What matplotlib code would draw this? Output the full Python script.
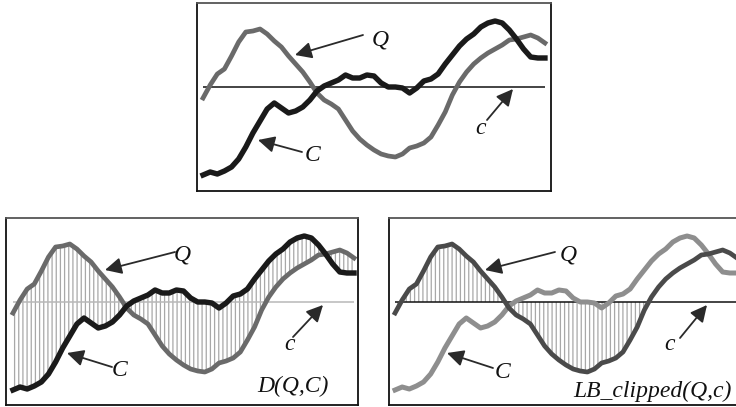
import numpy as np
import matplotlib
matplotlib.use("Agg")
import matplotlib.pyplot as plt
from matplotlib.patches import FancyArrowPatch

# ---- data (values relative to the zero/mean line, arbitrary units) ----
t = list(range(49))
Q = [-11, 2, 13, 18, 31, 45, 55, 56, 58, 53, 46, 40, 31, 23, 15, 5, -6, -13,
     -17, -22, -33, -44, -52, -58, -63, -67, -69, -70, -67, -61, -59, -56,
     -50, -38, -25, -8, 5, 15, 23, 29, 34, 38, 42, 47, 48, 50, 52, 49, 44]
C = [-88, -85, -87, -84, -80, -72, -60, -46, -34, -22, -16, -21, -26, -24,
     -20, -13, -4, 1, 4, 7, 12, 9, 9, 12, 11, 4, 0, 0, -1, -6, -1, 6, 8, 13,
     23, 32, 41, 48, 53, 60, 64, 66, 64, 57, 48, 38, 30, 29, 29]
labels_top = ["Q", "C", "c"]
label_D = "D(Q,C)"
label_LB = "LB_clipped(Q,c)"

W, H = 736, 407
plt.rcParams['hatch.linewidth'] = 0.9
fig = plt.figure(figsize=(W / 100, H / 100), dpi=100)

def px_rect(l, tp, r, b):
    return [l / W, (H - b) / H, (r - l) / W, (b - tp) / H]

def fp(x, y):
    return (x / W, (H - y) / H)

TXT = dict(family="Liberation Serif", style="italic",
           fontsize=17, color="#111111")

def style_axes(ax):
    ax.set_xticks([]); ax.set_yticks([])
    for s in ax.spines.values():
        s.set_linewidth(1.3); s.set_color("#111111")
    ax.spines["top"].set_color("#555555")

def arrow(p_head, p_tail):
    fig.add_artist(FancyArrowPatch(
        fp(*p_tail), fp(*p_head), transform=fig.transFigure,
        arrowstyle="-|>,head_length=10,head_width=5", color="#2a2a2a",
        lw=1.3, shrinkA=0, shrinkB=0))

def label(x, y, s, **kw):
    d = dict(TXT); d.update(kw)
    fig.text(x / W, (H - y) / H, s, ha="center", va="center", **d)

tq = np.array(t); q = np.array(Q); c = np.array(C)
LWQ, LWC = 3.4, 3.9

# ---- top panel ----
ax1 = fig.add_axes(px_rect(197, 3, 551, 191))
ax1.hlines(0, tq[0], tq[-1], color="#111111", lw=1.1, zorder=1)
ax1.plot(tq, q, color="#6a6a6a", lw=LWQ, solid_joinstyle="round", zorder=2)
ax1.plot(tq, c, color="#1a1a1a", lw=LWC, solid_joinstyle="round", zorder=3)
ax1.set_xlim(-0.85, 48.85); ax1.set_ylim(-104, 84)
style_axes(ax1)
arrow((295, 55), (363, 35)); label(380, 40, labels_top[0])
arrow((258, 140), (302, 152)); label(313, 156, labels_top[1])
arrow((513, 89), (487, 120)); label(481, 128, labels_top[2])

# ---- bottom-left panel: D(Q,C) ----
ax2 = fig.add_axes(px_rect(6, 218, 358, 405))
ax2.fill_between(tq, q, c, facecolor="none", edgecolor="#a8a8a8",
                 hatch="||||", linewidth=0, zorder=1)
ax2.hlines(0, tq[0], tq[-1], color="#b8b8b8", lw=1.1, zorder=1.5)
ax2.plot(tq, q, color="#6a6a6a", lw=LWQ, solid_joinstyle="round", zorder=2)
ax2.plot(tq, c, color="#1a1a1a", lw=LWC, solid_joinstyle="round", zorder=3)
ax2.set_xlim(-0.98, 48.56); ax2.set_ylim(-103, 84)
style_axes(ax2)
arrow((105, 270), (175, 252)); label(182, 255, labels_top[0])
arrow((67, 353), (112, 367)); label(120, 371, labels_top[1])
arrow((323, 305), (293, 337)); label(290, 344, labels_top[2])
label(293, 386, label_D)

# ---- bottom-right panel: LB_clipped(Q,c) ----
ax3 = fig.add_axes(px_rect(389, 218, 743, 405))
where = ~((q > 0) & (c > 0))
ax3.fill_between(tq, q, 0, where=where, interpolate=True, facecolor="none",
                 edgecolor="#a8a8a8", hatch="||||", linewidth=0, zorder=1)
ax3.hlines(0, tq[0], tq[-1], color="#111111", lw=1.1, zorder=1.5)
ax3.plot(tq, c, color="#8e8e8e", lw=LWC - 0.3, solid_joinstyle="round", zorder=2)
ax3.plot(tq, q, color="#4a4a4a", lw=LWQ, solid_joinstyle="round", zorder=3)
ax3.set_xlim(-0.85, 48.85); ax3.set_ylim(-103, 84)
style_axes(ax3)
arrow((485, 270), (555, 252)); label(568, 255, labels_top[0])
arrow((447, 353), (493, 368)); label(503, 372, labels_top[1])
arrow((707, 305), (680, 338)); label(670, 344, labels_top[2])
label(652, 391, label_LB)

fig.savefig("out.png", dpi=100)
